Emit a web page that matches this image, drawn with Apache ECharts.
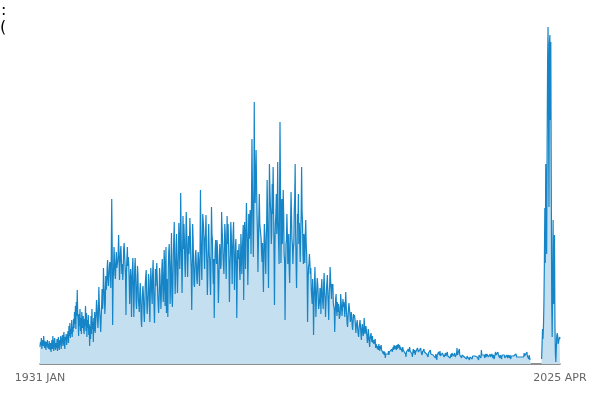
<!DOCTYPE html>
<html>
<head>
<meta charset="utf-8">
<script src="https://cdn.jsdelivr.net/npm/echarts@6/dist/echarts.min.js"></script>
<style>html,body{margin:0;padding:0;background:#fff}#c{width:600px;height:400px}</style>
</head>
<body>
<div id="c"></div>
<script>
// Tick labels / categories
const startYear = 1931;
const monthNames = ['JAN','FEB','MAR','APR','MAY','JUN','JUL','AUG','SEP','OCT','NOV','DEC'];
const lastYear = 2025, lastMonth = 4;

// Monthly values (estimated, relative units) by decade
const values1930s = [
17,22,19,26,15,20,24,18,28,21,16,23,
19,14,22,18,24,16,20,15,23,19,14,21,
12,18,24,15,28,20,13,22,26,17,14,21,
16,25,13,20,27,18,14,24,19,28,15,22,
22,29,18,26,32,20,15,27,24,30,19,25,
24,33,21,38,28,41,26,35,30,44,27,37,
32,45,36,52,40,58,35,62,48,74,50,44,
28,50,38,55,33,46,30,52,41,36,48,34,
30,45,38,58,33,51,27,44,36,49,29,40];
const values1940s = [
18,38,25,48,30,55,35,42,22,46,33,52,
31,40,50,64,58,45,36,48,77,60,52,44,
32,45,58,75,55,62,96,80,70,50,60,88,
74,80,95,104,85,78,88,98,102,92,76,110,
165,120,39,81,95,117,105,90,85,100,112,96,
97,102,110,129,108,84,99,112,118,104,90,100,
84,95,115,121,110,100,88,49,92,105,117,98,
107,100,85,60,78,95,88,47,72,96,106,80,
47,70,95,106,88,62,55,75,98,90,64,58,
52,70,81,66,45,37,58,72,78,68,50,42];
const values1950s = [
60,80,88,94,65,50,48,70,90,84,56,42,
74,96,85,70,60,90,104,80,58,41,66,95,
78,92,101,85,70,60,51,65,96,88,90,55,
70,95,105,80,62,75,114,100,58,90,117,51,
85,70,47,95,112,120,100,60,78,105,131,66,
57,80,110,125,142,95,70,88,118,130,100,71,
90,110,141,125,95,115,171,130,100,71,105,148,
115,140,125,100,87,118,152,135,110,87,105,128,
110,120,146,130,105,95,54,90,140,125,100,80,
77,95,110,114,100,85,80,98,112,105,90,78];
const values1960s = [
110,174,130,100,84,120,150,149,135,110,95,125,
130,149,115,100,69,90,125,140,110,105,85,69,
110,157,130,124,95,80,105,46,90,115,124,110,
100,124,115,90,61,80,105,120,110,95,100,152,
136,125,110,99,90,115,140,130,105,85,120,148,
120,140,125,100,62,95,110,142,130,105,80,115,
130,142,110,74,95,117,125,100,46,90,114,105,
110,120,95,84,100,130,115,90,110,125,139,64,
110,142,125,95,130,161,140,120,79,105,150,125,
130,154,142,110,160,225,180,140,107,150,262,170];
const values1970s = [
161,190,214,180,150,130,92,120,146,170,140,135,
137,125,110,102,121,95,72,115,140,130,105,90,
120,140,184,150,110,76,130,200,176,160,150,120,
130,180,150,197,165,110,59,120,140,150,170,130,
150,202,141,120,100,160,242,180,101,130,165,120,
140,174,150,110,104,44,90,120,124,150,130,100,
114,130,95,81,110,140,172,150,125,120,100,115,
120,154,165,200,130,100,76,110,150,140,170,120,
141,120,102,130,150,197,154,140,110,100,130,120,
101,130,144,120,110,90,42,80,97,100,110,101];
const values1980s = [
90,96,75,67,60,85,70,29,60,80,97,75,
47,60,75,86,80,70,55,54,62,76,70,50,
77,85,70,61,55,80,91,72,65,47,60,75,
81,89,70,60,44,71,78,97,85,75,65,80,
74,80,60,61,55,32,50,65,70,54,48,62,
52,60,57,45,44,50,70,62,55,48,58,65,
57,62,55,47,45,72,58,50,40,37,48,55,
61,55,50,42,45,52,48,38,34,42,50,46,
49,45,40,31,38,41,44,35,30,27,36,40,
44,38,30,24,35,40,34,28,32,46,38,30];
const values1990s = [
31,38,36,28,21,25,35,30,22,17,26,28,
31,25,22,28,21,24,20,22,18,25,16,20,
19,22,15,18,14,20,16,13,18,15,19,14,
16,12,14,10,13,9,12,6,10,8,9,11,
12,10,13,9,12,10,14,11,13,15,12,14,
17,14,19,15,13,18,16,14,19,15,17,20,
21,16,19,14,17,15,18,16,12,17,14,15,
16,12,15,10,7,12,14,11,13,15,12,14,
17,13,15,11,14,10,7,12,15,11,13,14,
9,12,14,11,13,16,14,12,14,10,12,13];
const values2000s = [
16,12,14,9,12,13,11,15,12,10,14,11,
14,10,12,8,7,11,13,9,12,14,10,12,
11,8,12,9,10,7,11,8,6,10,9,4,
9,11,8,12,10,9,13,8,10,7,9,11,
9,12,10,7,9,6,11,8,10,9,12,8,
8,10,7,9,6,8,10,7,11,9,12,8,
10,8,11,7,9,8,10,16,9,11,8,10,
15,9,7,11,8,6,9,10,8,11,9,7,
7,9,6,8,5,8,7,9,6,8,4,7,
8,6,9,7,5,8,10,7,9,6,8,7];
const values2010s = [
8,6,9,7,5,8,4,9,7,10,8,6,
14,9,11,8,10,7,9,6,8,10,7,9,
10,8,11,7,9,6,8,10,7,9,8,10,
8,6,9,7,5,8,10,12,9,11,8,7,
12,9,10,8,6,9,7,8,5,9,7,8,
8,7,9,6,8,5,7,9,8,6,9,7,
8,6,9,7,5,8,6,7,9,7,8,6,
7,9,6,10,8,7,9,6,8,5,7,9,
8,6,9,7,5,8,6,9,7,11,8,10,
7,9,6,12,8,10,7,5,9,6,4,7];
const values2020Jan = [5];
const gapMonths = [null,null,null,null,null,null,null,null,null,null,null,
                   null,null,null,null,null,null,null,null,null,null,null];
const valuesRecent = [
5,20,35,25,37,60,100,156,101,200,156,110,220,300,337,250,157,320,329,244,
322,180,60,27,80,144,60,90,129,40,10,2,15,28,31,28,20,18,22,27,25];

const seriesValues = [].concat(values1930s, values1940s, values1950s, values1960s,
  values1970s, values1980s, values1990s, values2000s, values2010s,
  values2020Jan, gapMonths, valuesRecent);

const categories = [];
for (let y = startYear; y <= lastYear; y++) {
  for (let m = 0; m < 12; m++) {
    if (y === lastYear && m >= lastMonth) break;
    categories.push(y + ' ' + monthNames[m]);
  }
}
const lastIdx = categories.length - 1;

const chart = echarts.init(document.getElementById('c'), null, {renderer: 'canvas'});
chart.setOption({
  animation: false,
  backgroundColor: '#ffffff',
  grid: {left: 40, right: 40, top: 20, bottom: 36},
  graphic: [
    {type: 'text', left: 1, top: 3, style: {text: ':', font: '16px "DejaVu Sans"', fill: '#000'}},
    {type: 'text', left: 0, top: 20, style: {text: '(', font: '16px "DejaVu Sans"', fill: '#000'}}
  ],
  xAxis: {
    type: 'category',
    data: categories,
    boundaryGap: false,
    axisTick: {show: false},
    axisLine: {lineStyle: {color: '#6b6b6b', width: 1.5}},
    axisLabel: {
      color: '#666',
      fontSize: 11,
      fontFamily: 'DejaVu Sans',
      margin: 9,
      interval: function (i) { return i === 0 || i === lastIdx; },
      showMinLabel: true,
      showMaxLabel: true
    }
  },
  yAxis: {
    type: 'value',
    min: 0,
    max: 344,
    show: false
  },
  series: [{
    type: 'line',
    data: seriesValues,
    showSymbol: false,
    symbol: 'none',
    connectNulls: false,
    lineStyle: {color: '#1585c7', width: 1.2},
    areaStyle: {color: '#c3dff0', opacity: 1}
  }]
});
</script>
</body>
</html>
